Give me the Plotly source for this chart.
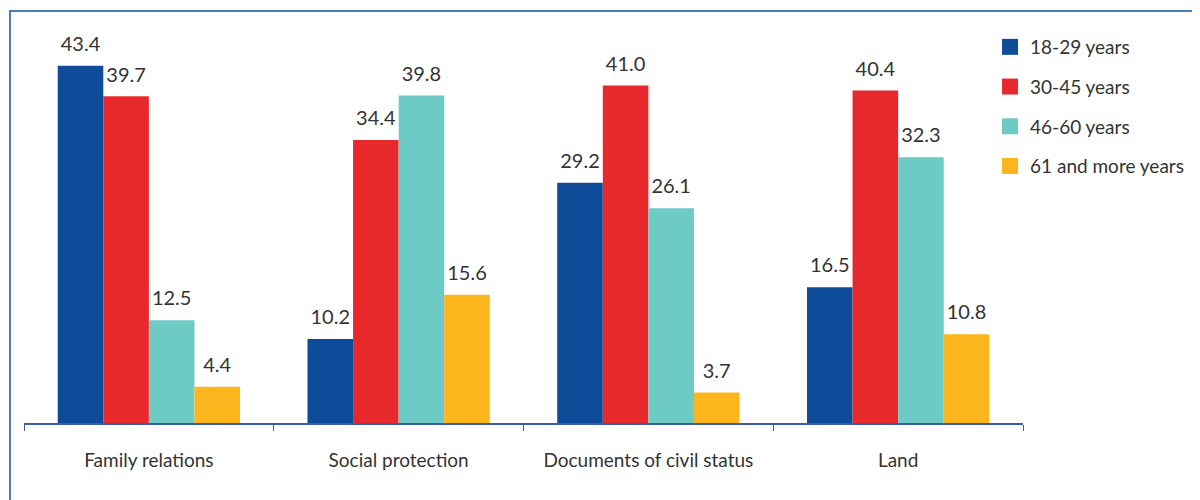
import plotly.graph_objects as go

categories = ["Family relations", "Social protection", "Documents of civil status", "Land"]
series_names = ["18-29 years", "30-45 years", "46-60 years", "61 and more years"]
v_18_29 = [43.4, 10.2, 29.2, 16.5]
v_30_45 = [39.7, 34.4, 41.0, 40.4]
v_46_60 = [12.5, 39.8, 26.1, 32.3]
v_61_plus = [4.4, 15.6, 3.7, 10.8]
colors = ["#0e4c9a", "#e8292c", "#6ecac5", "#fdb51e"]

fig = go.Figure()
all_vals = [v_18_29, v_30_45, v_46_60, v_61_plus]
for i, (name, vals, col) in enumerate(zip(series_names, all_vals, colors)):
    fig.add_trace(go.Bar(
        x=categories, y=vals, name=name, marker_color=col, marker_line_width=0,
        offsetgroup=str(i), showlegend=False, hoverinfo="skip",
    ))
for i, (name, vals, col) in enumerate(zip(series_names, all_vals, colors)):
    fig.add_trace(go.Scatter(
        x=categories, y=vals, mode="markers+text", offsetgroup=str(i),
        marker=dict(size=14, opacity=0, color=col),
        text=[f"{v:.1f}" for v in vals], textposition="top center",
        textfont=dict(size=20, color="#333333"), cliponaxis=False,
        showlegend=False, hoverinfo="skip",
    ))
for i, (name, col) in enumerate(zip(series_names, colors)):
    fig.add_trace(go.Scatter(
        x=[None], y=[None], mode="markers", name=name, legendgroup=str(i),
        marker=dict(symbol="square", size=17, color=col),
    ))

fig.update_layout(
    width=1200, height=500,
    margin=dict(l=16, r=185, t=20, b=85),
    paper_bgcolor="white", plot_bgcolor="white",
    font=dict(family="Lato, Open Sans, sans-serif", color="#333333"),
    barmode="group", bargap=0.27, bargroupgap=0,
    scattermode="group", scattergap=0.27,
    showlegend=True,
    legend=dict(x=0.967, y=1.0, xanchor="left", yanchor="top",
                font=dict(size=19, color="#333333"), tracegroupgap=12,
                bgcolor="rgba(0,0,0,0)"),
    xaxis=dict(showline=True, linecolor="#3a5f9f", linewidth=1.5,
               ticks="outside", tickson="boundaries", ticklen=6, tickcolor="#3a5f9f",
               tickfont=dict(size=19, color="#333333"), showgrid=False,
               ticklabelstandoff=19),
    yaxis=dict(range=[0, 48], visible=False, showgrid=False, zeroline=False),
)
fig.add_shape(type="rect", xref="paper", yref="paper",
              x0=-0.014, x1=1.2, y0=-0.25, y1=1.043,
              line=dict(color="#4a7ebb", width=2), fillcolor="rgba(0,0,0,0)", layer="below")

fig.write_html("out.html")
